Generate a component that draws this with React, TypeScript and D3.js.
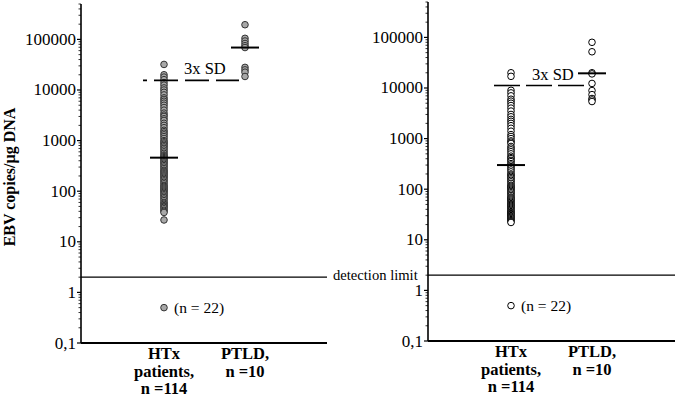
import * as d3 from "d3";
import React from "react";

const categories = ["HTx", "PTLD"];
const catLabels = [["HTx", "patients,", "n =114"], ["PTLD,", "n =10"]];
const tickValues = [0.1, 1, 10, 100, 1000, 10000, 100000];
const tickLabels = ["0,1", "1", "10", "100", "1000", "10000", "100000"];

// left panel (grey filled circles)
const leftHTx = [
  32000, 20000, 18000, 16000, 14000, 12500, 11000, 10000, 9000, 8000, 7000, 6500,
  6000, 5500, 5000, 4500, 4000, 3500, 3200, 3000, 2700, 2500, 2200, 2000, 1800,
  1600, 1500, 1400, 1300, 1200, 1100, 1000, 950, 900, 850, 800, 750, 700, 650,
  600, 560, 520, 500, 480, 460, 440, 420, 400, 380, 360, 340, 320, 300, 280, 260,
  250, 240, 230, 220, 210, 200, 190, 180, 170, 160, 150, 140, 130, 125, 120, 115,
  110, 105, 100, 95, 90, 85, 80, 75, 70, 65, 60, 58, 55, 52, 50, 48, 45, 42, 40,
  38, 27,
];
const leftPTLD = [195000, 105000, 93000, 83000, 75000, 69000, 28000, 25000, 22500, 18500];
const leftMeans = [460, 69000];
const leftSD = 15500;

// right panel (open circles)
const rightHTx = [
  20000, 17000, 9000, 8000, 7000, 6000, 5500, 5000, 4500, 4000, 3500, 3000, 2700,
  2400, 2200, 2000, 1800, 1600, 1400, 1200, 1100, 1000, 900, 850, 800, 700, 650,
  600, 550, 500, 450, 420, 400, 370, 350, 320, 300, 280, 260, 240, 220, 200, 190,
  180, 170, 160, 150, 140, 130, 120, 115, 110, 105, 100, 95, 90, 85, 80, 75, 70,
  67, 64, 61, 58, 55, 52, 50, 48, 46, 44, 42, 40, 38, 36, 35, 34, 33, 32, 31, 30,
  29, 28, 27, 26, 25, 24, 23, 22,
];
const rightPTLD = [80000, 52000, 20000, 19000, 12300, 8900, 7400, 6200, 5800, 5400];
const rightMeans = [300, 19500];
const rightSD = 11200;

const belowLimit = 0.5;
const detectionLimit = 2;

const FONT = "Liberation Serif, Tinos, Times New Roman, serif";
const serif = { fontFamily: FONT };

type PanelProps = {
  axisX: number;
  axisEnd: number;
  yBottom: number;
  htx: number[];
  ptld: number[];
  means: number[];
  sd: number;
  filled: boolean;
  sdStart: number;
  sdEnd: number;
  sdDash: string;
  sdOffset: number;
  sdLabelX: number;
  lineStart: number;
};

function Panel(p: PanelProps) {
  const y = d3.scaleLog().domain([0.1, 500000]).range([p.yBottom, p.yBottom - 6.699 * 50.6]);
  const x = d3.scalePoint().domain(categories).range([p.axisX + 83, p.axisX + 164]);
  const minor = y.ticks().filter((t) => !tickValues.some((v) => Math.abs(v - t) / v < 1e-6));
  const top = y.range()[1];
  const fill = p.filled ? "#a8a8a8" : "#fff";
  const stroke = p.filled ? "#333" : "#000";
  const htxX = x("HTx")!;
  const ptldX = x("PTLD")!;
  const limY = y(detectionLimit);

  return (
    <g>
      {/* y axis */}
      <line x1={p.axisX} x2={p.axisX} y1={top} y2={p.yBottom} stroke="#000" strokeWidth={1.6} />
      {minor.map((t) => (
        <line key={"m" + t} x1={p.axisX - 2.5} x2={p.axisX} y1={y(t)} y2={y(t)} stroke="#000" strokeWidth={0.8} />
      ))}
      {tickValues.map((t, i) => (
        <g key={t}>
          <line x1={p.axisX - 4} x2={p.axisX} y1={y(t)} y2={y(t)} stroke="#000" strokeWidth={1.2} />
          <text x={p.axisX - 5} y={y(t) + 5.5} textAnchor="end" fontSize={17} style={serif}>
            {tickLabels[i]}
          </text>
        </g>
      ))}
      {/* x axis */}
      <line x1={p.axisX} x2={p.axisEnd} y1={p.yBottom} y2={p.yBottom} stroke="#000" strokeWidth={1.8} />
      {catLabels.map((lines, ci) =>
        lines.map((s, li) => (
          <text
            key={ci + "-" + li}
            x={x(categories[ci])!}
            y={p.yBottom + 16 + li * 17.5}
            textAnchor="middle"
            fontSize={16.5}
            fontWeight="bold"
            style={serif}
          >
            {s}
          </text>
        ))
      )}
      {/* detection limit */}
      <line x1={p.lineStart} x2={p.axisEnd} y1={limY} y2={limY} stroke="#000" strokeWidth={1.1} />
      {/* points */}
      {p.htx.map((v, i) => (
        <circle key={"h" + i} cx={htxX} cy={y(v)} r={3.3} fill={fill} stroke={stroke} strokeWidth={1} />
      ))}
      {p.ptld.map((v, i) => (
        <circle key={"p" + i} cx={ptldX} cy={y(v)} r={3.3} fill={fill} stroke={stroke} strokeWidth={1} />
      ))}
      <circle cx={htxX} cy={y(belowLimit)} r={3.3} fill={fill} stroke={stroke} strokeWidth={1} />
      <text x={htxX + 10} y={y(belowLimit) + 5} fontSize={15.5} style={serif}>
        (n = 22)
      </text>
      {/* means */}
      {p.means.map((m, i) => (
        <line
          key={"mean" + i}
          x1={x(categories[i])! - 14}
          x2={x(categories[i])! + 14}
          y1={y(m)}
          y2={y(m)}
          stroke="#000"
          strokeWidth={2}
        />
      ))}
      {/* 3x SD */}
      <line
        x1={p.sdStart}
        x2={p.sdEnd}
        y1={y(p.sd)}
        y2={y(p.sd)}
        stroke="#000"
        strokeWidth={1.6}
        strokeDasharray={p.sdDash}
        strokeDashoffset={p.sdOffset}
      />
      <text x={p.sdLabelX} y={y(p.sd) - 6} fontSize={16.5} style={serif}>
        3x SD
      </text>
    </g>
  );
}

export default function App() {
  return (
    <svg width={678} height={401} style={{ position: "absolute", left: 0, top: 0, background: "#fff" }}>
      <Panel
        axisX={81}
        axisEnd={327}
        yBottom={343}
        htx={leftHTx}
        ptld={leftPTLD}
        means={leftMeans}
        sd={leftSD}
        filled={true}
        sdStart={143}
        sdEnd={239}
        sdDash="24,7"
        sdOffset={20}
        sdLabelX={184}
        lineStart={81}
      />
      <Panel
        axisX={428}
        axisEnd={675}
        yBottom={341}
        htx={rightHTx}
        ptld={rightPTLD}
        means={rightMeans}
        sd={rightSD}
        filled={false}
        sdStart={494}
        sdEnd={585}
        sdDash="26,6"
        sdOffset={0}
        sdLabelX={532}
        lineStart={428}
      />
      <text x={333} y={280} fontSize={14.6} style={serif}>
        detection limit
      </text>
      <text
        transform="translate(15,177) rotate(-90)"
        textAnchor="middle"
        fontSize={16}
        fontWeight="bold"
        style={serif}
      >
        EBV copies/µg DNA
      </text>
    </svg>
  );
}
